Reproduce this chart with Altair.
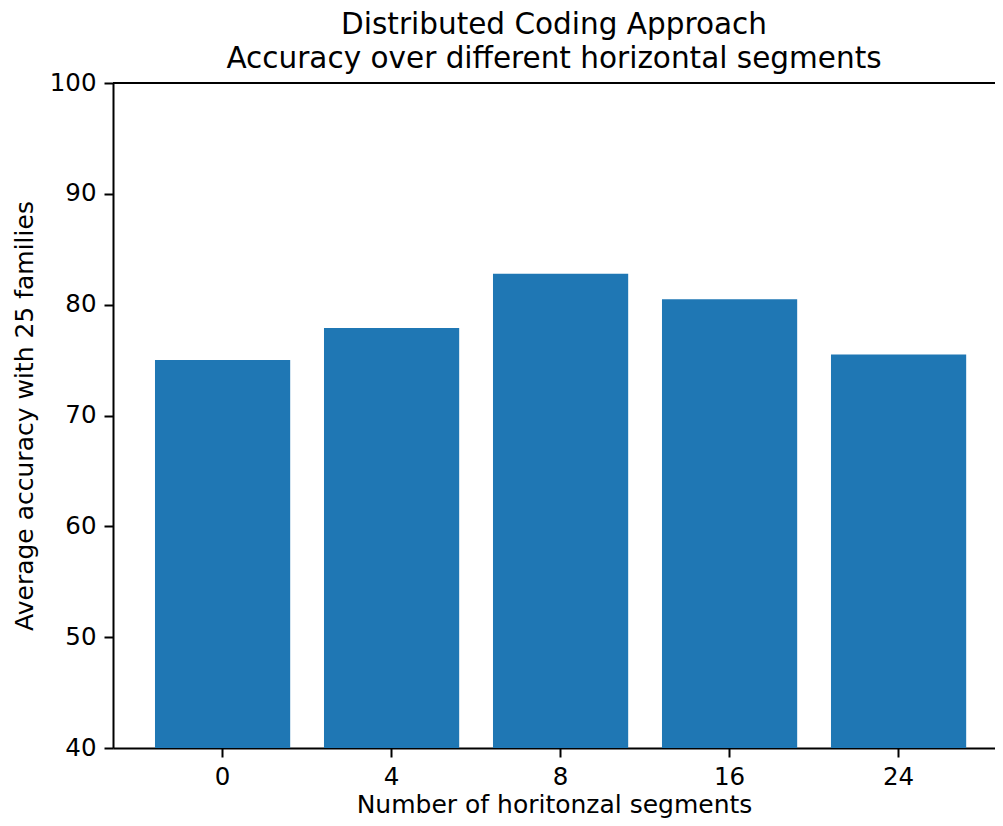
import altair as alt
import pandas as pd

segments = ["0", "4", "8", "16", "24"]
accuracy = [75.0, 77.9, 82.8, 80.5, 75.5]
y_ticks = [40, 50, 60, 70, 80, 90, 100]

df = pd.DataFrame({"segments": segments, "accuracy": accuracy})

FONT = "DejaVu Sans"
W, H = 882, 665

base = alt.Chart(df)

bars = base.mark_bar(color="#1f77b4").encode(
    x=alt.X(
        "segments:N",
        sort=segments,
        scale=alt.Scale(paddingInner=0.2, paddingOuter=0.2095, align=0.593),
        axis=alt.Axis(
            title="Number of horitonzal segments",
            labelAngle=0,
            labelFont=FONT,
            labelFontSize=24.5,
            labelColor="black",
            labelPadding=8,
            titleFont=FONT,
            titleFontSize=25,
            titleFontWeight="normal",
            titleColor="black",
            titlePadding=4,
            tickSize=9,
            tickWidth=2,
            tickColor="black",
            domainWidth=2,
            domainColor="black",
            grid=False,
        ),
    ),
    y=alt.Y(
        "accuracy:Q",
        scale=alt.Scale(domain=[40, 100], zero=False, nice=False),
        axis=alt.Axis(
            title="Average accuracy with 25 families",
            values=y_ticks,
            labelFont=FONT,
            labelFontSize=24.5,
            labelColor="black",
            labelPadding=8,
            titleFont=FONT,
            titleFontSize=25,
            titleFontWeight="normal",
            titleColor="black",
            titlePadding=12,
            tickSize=9,
            tickWidth=2,
            tickColor="black",
            domainWidth=2,
            domainColor="black",
            grid=False,
        ),
    ),
    y2=alt.datum(40),
)

top_spine = base.mark_rule(color="black", strokeWidth=2).encode(
    y=alt.value(0), x=alt.value(0), x2=alt.value(W)
)

chart = (
    alt.layer(bars, top_spine)
    .properties(
        width=W,
        height=H,
        autosize=alt.AutoSizeParams(type="none"),
        padding={"left": 105, "top": 75, "right": 0, "bottom": 70},
        title=alt.TitleParams(
            ["Distributed Coding Approach", "Accuracy over different horizontal segments"],
            font=FONT,
            fontSize=29.5,
            fontWeight="normal",
            color="black",
            lineHeight=34,
            anchor="middle",
            offset=2,
            dy=6,
        ),
    )
    .configure_view(stroke=None)
)

chart.save("out.html", embed_options={"renderer": "svg", "actions": False})
